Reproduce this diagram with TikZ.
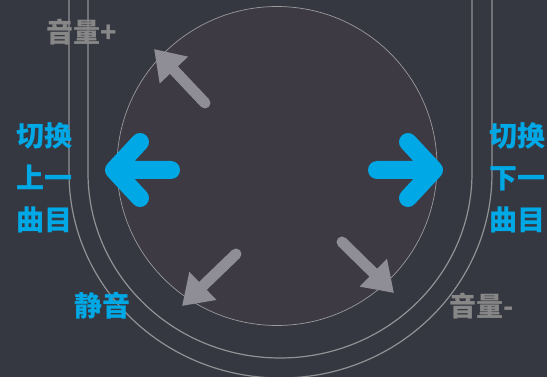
\documentclass[tikz,border=0pt]{standalone}
\usepackage{fontspec}
\newfontfamily\cjk{Noto Sans CJK SC}
\usepackage{tikz}
\usetikzlibrary{calc, positioning}
\usetikzlibrary{arrows.meta}
\definecolor{bgdark}{HTML}{353841}
\definecolor{padfill}{HTML}{3D3A43}
\definecolor{rimgray}{HTML}{9A9A9E}
\definecolor{linegray}{HTML}{929296}
\definecolor{arrowgray}{HTML}{8F8D96}
\definecolor{keyblue}{HTML}{00A8E6}
\definecolor{labelgray}{HTML}{878787}
\tikzset{
    auto,node distance =1.1 cm and 1.1 cm,% pixel grid below, 1px = 1pt
}
\begin{document}
\begin{tikzpicture}
            [x=1pt,y=-1pt,
            every node/.style={inner sep=0pt,font=\cjk},
            graylabel/.style={text=labelgray,font=\cjk\bfseries\fontsize{27}{27}\selectfont},
            bluelabel/.style={text=keyblue,align=center,font=\cjk\bfseries\fontsize{28}{42}\selectfont},
            uline/.style={draw=linegray,line width=1.2pt},
            bluearrow/.style={draw=keyblue,line width=18pt,line cap=round,line join=round},
            grayarrow/.style={draw=arrowgray,line width=11pt,line cap=round,-{Triangle[length=29pt,width=37pt]}}]
            \useasboundingbox (0,0) rectangle (547,377);
            \fill[bgdark] (0,0) rectangle (547,377);
            % the two U shaped rims
            \draw[uline] (69,0) -- (69,173) arc[start angle=180,end angle=0,x radius=211.5,y radius=205] -- (492,0);
            \draw[uline] (88,0) -- (88,173) arc[start angle=180,end angle=0,x radius=192,y radius=185] -- (472,0);
            % the pad
            \draw[fill=padfill,draw=rimgray,line width=0.7pt] (277,166) ellipse[x radius=160,y radius=159.5];
            % arrows
            \coordinate (prevT) at (114,170);
            \coordinate (prevA) at (140,142);
            \coordinate (prevB) at (140,198);
            \coordinate (prevS) at (171,170);
            \coordinate (nextT) at (434,170);
            \coordinate (nextA) at (408,142);
            \coordinate (nextB) at (408,198);
            \coordinate (nextS) at (377,170);
            \draw[bluearrow] (prevA) -- (prevT) -- (prevB) (prevS) -- (prevT);
            \draw[bluearrow] (nextA) -- (nextT) -- (nextB) (nextS) -- (nextT);
            \coordinate (upS) at (205,103);
            \coordinate (upT) at (154,49);
            \coordinate (muteS) at (236,254);
            \coordinate (muteT) at (182,306);
            \coordinate (downS) at (342,242);
            \coordinate (downT) at (394,293);
            \draw[grayarrow] (upS) -- (upT);
            \draw[grayarrow] (muteS) -- (muteT);
            \draw[grayarrow] (downS) -- (downT);
            % labels
            \node(volup) [graylabel] at (81.5,32.5) {音量+};
            \node(voldown) [graylabel] at (481.5,306) {音量-};
            \node(mute) [bluelabel] at (102.5,306) {静音};
            \node(prev) [bluelabel] at (44.5,178) {切换\\上一\\曲目};
            \node(next) [bluelabel] at (517.5,178) {切换\\下一\\曲目};
        \end{tikzpicture}
\end{document}
